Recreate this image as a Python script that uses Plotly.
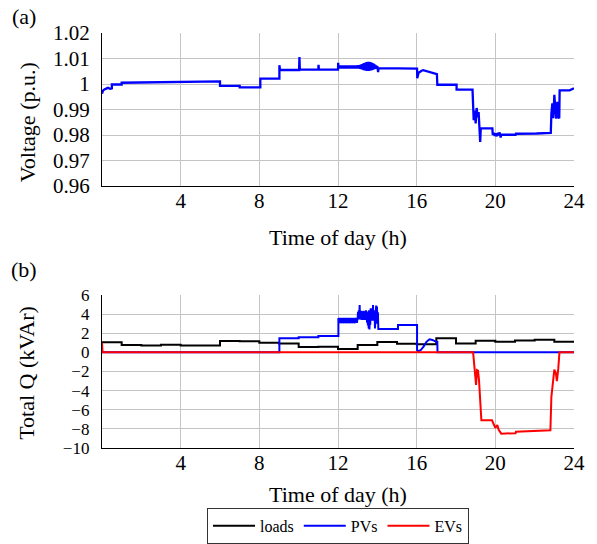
import plotly.graph_objects as go

# ---------------- data ----------------
# (a) voltage profile (hours, p.u.)
t_volt = [0, 0.05, 0.12, 0.2, 0.3, 0.42, 0.48, 0.5, 0.5, 1.0, 1.0, 5.0, 5.0, 6.0, 6.0, 7.0, 7.0, 8.05, 8.05,
          9.02, 9.02, 9.05, 10.02, 10.04, 10.06, 11.0, 11.01, 11.03, 12.0, 12.01, 12.03,
          12.07, 12.11, 12.15, 12.19, 12.23, 12.27, 12.31, 12.35, 12.39, 12.43, 12.47, 12.51, 12.55, 12.59,
          12.63, 12.67, 12.71, 12.75, 12.79, 12.83, 12.87, 12.91, 12.95, 12.99, 13.03, 13.07,
          13.1, 13.13, 13.16, 13.19, 13.22, 13.25, 13.28, 13.31, 13.34, 13.37, 13.4, 13.43, 13.46, 13.49,
          13.52, 13.55, 13.58, 13.61, 13.64, 13.67, 13.7, 13.73, 13.76, 13.79, 13.82, 13.85, 13.88, 13.91,
          13.94, 13.97, 14.0, 14.04, 14.06, 15.07, 15.07, 16.02, 16.03, 16.1, 16.25, 16.33, 17.03, 17.05,
          18.03, 18.03, 18.84, 18.86, 18.9, 18.95, 19.0, 19.05, 19.1, 19.15, 19.2, 19.23, 19.26, 19.28,
          19.85, 19.87, 19.92, 19.97, 20.02, 20.07, 20.12, 20.17, 20.22, 20.27, 20.3, 21.03, 21.05,
          22.1, 22.82, 22.85, 22.9, 22.95, 23.0, 23.05, 23.1, 23.15, 23.2, 23.25, 23.27, 23.78, 23.9, 24.0]
v_volt = [0.9962, 0.9974, 0.9979, 0.9983, 0.9985, 0.9981, 0.9983, 0.9983, 0.9998, 0.9998, 1.0005, 1.0008, 1.0010, 1.0010, 0.9993, 0.9993, 0.9987, 0.9987, 1.0021,
          1.0021, 1.0074, 1.0055, 1.0055, 1.0106, 1.0056, 1.0056, 1.0075, 1.0056, 1.0056, 1.0083, 1.0064,
          1.0072, 1.0061, 1.0072, 1.0061, 1.0072, 1.0061, 1.0072, 1.0061, 1.0072, 1.0061, 1.0072, 1.0061, 1.0072, 1.0061,
          1.0072, 1.0061, 1.0072, 1.0061, 1.0072, 1.0061, 1.0072, 1.0061, 1.0072, 1.0061, 1.0073, 1.0061,
          1.0074, 1.0060, 1.0076, 1.0058, 1.0078, 1.0056, 1.0080, 1.0054, 1.0082, 1.0053, 1.0084, 1.0052, 1.0086, 1.0051,
          1.0087, 1.0051, 1.0087, 1.0052, 1.0086, 1.0053, 1.0084, 1.0054, 1.0082, 1.0056, 1.0079, 1.0058, 1.0076, 1.0060,
          1.0073, 1.0062, 1.0070, 1.0047, 1.0062, 1.0061, 1.0060, 1.0060, 1.0023, 1.0044, 1.0052, 1.0054, 1.0039, 0.9997,
          0.9997, 0.9978, 0.9978, 0.9890, 0.9858, 0.9896, 0.9845, 0.9906, 0.9870, 0.9890, 0.9773, 0.9773, 0.9826, 0.9826,
          0.9826, 0.9800, 0.9808, 0.9797, 0.9806, 0.9795, 0.9808, 0.9803, 0.9810, 0.9790, 0.9801, 0.9801, 0.9805,
          0.9806, 0.9808, 0.9884, 0.9924, 0.9866, 0.9958, 0.9905, 0.9864, 0.9930, 0.9870, 0.9866, 0.9975, 0.9975, 0.9978, 0.9983]

# (b) reactive power of loads (hourly steps, kVAr)
t_loads = [0, 1, 2, 3, 4, 5, 6, 7, 8, 9, 10, 11, 12, 13, 14, 15, 16, 17, 18, 19, 20, 21, 22, 23, 24]
q_loads = [1.05, 0.78, 0.72, 0.80, 0.72, 0.72, 1.19, 1.15, 1.00, 0.94, 0.55, 0.60, 0.35, 0.77, 1.08, 0.90,
           0.85, 1.47, 0.94, 1.22, 1.12, 1.25, 1.33, 1.12, 1.12]

# (b) reactive power of PVs (kVAr)
t_pvs = [0, 9.02, 9.02, 10.0, 10.0, 11.0, 11.0, 12.02, 12.02,
         12.08, 12.12, 12.19, 12.23, 12.30, 12.34, 12.41, 12.45, 12.52, 12.56, 12.63, 12.67, 12.74, 12.78,
         12.85, 12.89, 12.96, 13.0,
         13.02, 13.04, 13.06, 13.08, 13.1, 13.12, 13.14, 13.16, 13.18, 13.2, 13.22, 13.24, 13.26, 13.28,
         13.3, 13.32, 13.34, 13.36, 13.38, 13.4, 13.42, 13.44, 13.46, 13.48, 13.5, 13.52, 13.54, 13.56,
         13.58, 13.6, 13.62, 13.64, 13.66, 13.68, 13.7, 13.72, 13.74, 13.76, 13.78, 13.8, 13.82, 13.84,
         13.86, 13.88, 13.9, 13.92, 13.94, 13.96, 13.98, 14.0, 14.03, 14.05, 15.05, 15.05, 16.02, 16.02,
         16.08, 16.2, 16.35, 16.5, 16.65, 16.8, 16.95, 17.05, 17.06, 24]
q_pvs = [0, 0, 1.47, 1.47, 1.57, 1.57, 1.70, 1.70, 3.60,
         3.05, 3.60, 3.05, 3.60, 3.05, 3.60, 3.05, 3.60, 3.05, 3.60, 3.05, 3.60, 3.05, 3.60,
         3.05, 3.60, 3.10, 3.60,
         4.25, 3.45, 4.40, 3.50, 4.95, 3.45, 4.30, 3.45, 4.35, 3.40, 4.30, 3.50, 4.30, 3.40,
         4.35, 3.45, 4.30, 3.40, 4.30, 3.40, 4.40, 3.30, 4.30, 3.10, 4.20, 2.80, 4.30, 2.50,
         4.40, 2.40, 4.30, 2.90, 4.60, 3.40, 4.30, 3.30, 4.60, 3.30, 4.95, 3.40, 4.40, 3.30,
         4.30, 2.50, 4.30, 3.40, 4.90, 3.00, 4.80, 3.60, 4.20, 2.45, 2.45, 2.86, 2.86, 0.25,
         0.12, 0.22, 0.60, 1.10, 1.36, 1.30, 1.15, 1.10, 0, 0]

# (b) reactive power of EVs (kVAr)
t_evs = [0, 0.03, 18.87, 18.92, 18.97, 19.02, 19.07, 19.12, 19.17, 19.22, 19.29, 19.83, 19.9, 20.0, 20.1,
         20.17, 20.3, 21.03, 21.05, 22.1, 22.8, 22.85, 22.92, 23.0, 23.08, 23.13, 23.2, 23.26, 24]
q_evs = [1.0, 0, 0, -1.15, -2.55, -3.40, -1.85, -1.90, -2.90, -4.50, -7.10, -7.10, -7.45, -7.90, -7.60,
         -8.10, -8.50, -8.45, -8.30, -8.20, -8.15, -4.65, -2.90, -1.80, -2.20, -3.00, -1.70, 0, 0]

series_names = ["loads", "PVs", "EVs"]
series_colors = ["#000000", "#0000ff", "#ff0000"]

volt_ticks = [0.96, 0.97, 0.98, 0.99, 1.0, 1.01, 1.02]
volt_ticktext = ["0.96", "0.97", "0.98", "0.99", "1", "1.01", "1.02"]
q_ticks = [-10, -8, -6, -4, -2, 0, 2, 4, 6]
hour_ticks = [0, 4, 8, 12, 16, 20, 24]
hour_ticktext = ["", "4", "8", "12", "16", "20", "24"]

# ---------------- figure ----------------
FONT = "Liberation Serif"
fig = go.Figure()

fig.add_trace(go.Scatter(x=t_volt, y=v_volt, mode="lines", line=dict(color="#0000ff", width=2.3),
                         xaxis="x", yaxis="y", showlegend=False, hoverinfo="skip"))

fig.add_trace(go.Scatter(x=t_loads, y=q_loads, mode="lines", name=series_names[0],
                         line=dict(color=series_colors[0], width=2, shape="hv"), xaxis="x2", yaxis="y2"))
fig.add_trace(go.Scatter(x=t_pvs, y=q_pvs, mode="lines", name=series_names[1],
                         line=dict(color=series_colors[1], width=2), xaxis="x2", yaxis="y2"))
fig.add_trace(go.Scatter(x=t_evs, y=q_evs, mode="lines", name=series_names[2],
                         line=dict(color=series_colors[2], width=2), xaxis="x2", yaxis="y2"))

grid = "#c4c4c4"
axis_common = dict(showline=True, linecolor="black", linewidth=1.3, mirror=False,
                   showgrid=True, gridcolor=grid, gridwidth=1, zeroline=False, ticks="",
                   automargin=False, layer="above traces")

fig.update_layout(
    width=597, height=544, autosize=False,
    margin=dict(l=102, r=23, t=33, b=96, autoexpand=False),
    paper_bgcolor="white", plot_bgcolor="white",
    font=dict(family=FONT, size=21, color="black"),
    xaxis=dict(domain=[0, 1], range=[0, 24], tickvals=hour_ticks, ticktext=hour_ticktext, anchor="y",
               ticklabelstandoff=-4, tickfont=dict(family=FONT, size=21, color="black"), **axis_common),
    yaxis=dict(domain=[0.6313, 1], range=[0.96, 1.02], tickvals=volt_ticks, ticktext=volt_ticktext,
               anchor="x", ticklabelstandoff=7, tickfont=dict(family=FONT, size=21, color="black"),
               **axis_common),
    xaxis2=dict(domain=[0, 1], range=[0, 24], tickvals=hour_ticks, ticktext=hour_ticktext, anchor="y2",
                ticklabelstandoff=-4, tickfont=dict(family=FONT, size=21, color="black"), **axis_common),
    yaxis2=dict(domain=[0, 0.3687], range=[-10, 6], tickvals=q_ticks, anchor="x2",
                ticklabelstandoff=8, tickfont=dict(family=FONT, size=17, color="black"), **axis_common),
    legend=dict(orientation="h", x=0.5, xanchor="center", y=-0.1445, yanchor="top",
                bordercolor="#333333", borderwidth=1, bgcolor="white",
                font=dict(family=FONT, size=16, color="black"), itemwidth=42,
                tracegroupgap=0),
    showlegend=True,
)

ann_font = dict(family=FONT, size=22, color="black")
fig.add_annotation(text="(a)", x=-0.165, y=1.04, xref="paper", yref="paper",
                   showarrow=False, font=ann_font, xanchor="center", yanchor="middle")
fig.add_annotation(text="(b)", x=-0.165, y=0.431, xref="paper", yref="paper",
                   showarrow=False, font=ann_font, xanchor="center", yanchor="middle")
fig.add_annotation(text="Voltage (p.u.)", x=-0.159, y=0.785, xref="paper", yref="paper", textangle=-90,
                   showarrow=False, font=ann_font, xanchor="center", yanchor="middle")
fig.add_annotation(text="Total Q (kVAr)", x=-0.159, y=0.181, xref="paper", yref="paper", textangle=-90,
                   showarrow=False, font=ann_font, xanchor="center", yanchor="middle")
fig.add_annotation(text="Time of day (h)", x=0.5, y=0.508, xref="paper", yref="paper",
                   showarrow=False, font=ann_font, xanchor="center", yanchor="middle")
fig.add_annotation(text="Time of day (h)", x=0.5, y=-0.112, xref="paper", yref="paper",
                   showarrow=False, font=ann_font, xanchor="center", yanchor="middle")

fig.write_html("out.html", config={"displayModeBar": False},
               post_script="document.body.style.margin='0';document.body.style.padding='0';")
